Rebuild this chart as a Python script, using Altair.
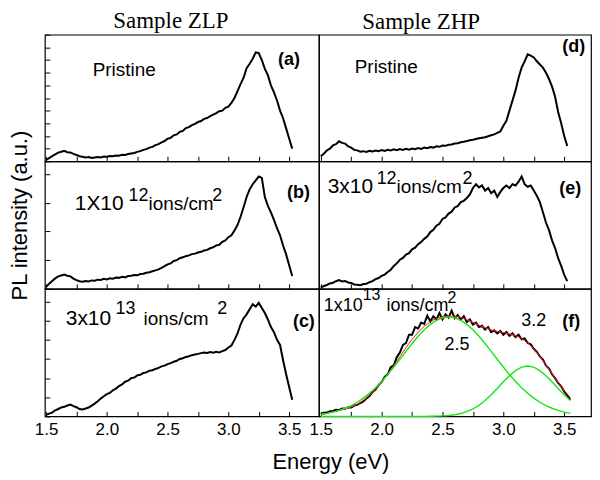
import altair as alt
import pandas as pd

# ---------------- data ----------------
ENERGY = [
    1.500, 1.525, 1.550, 1.575, 1.600, 1.625, 1.650, 1.675, 1.700, 1.725,
    1.750, 1.775, 1.800, 1.825, 1.850, 1.875, 1.900, 1.925, 1.950, 1.975,
    2.000, 2.025, 2.050, 2.075, 2.100, 2.125, 2.150, 2.175, 2.200, 2.225,
    2.250, 2.275, 2.300, 2.325, 2.350, 2.375, 2.400, 2.425, 2.450, 2.475,
    2.500, 2.525, 2.550, 2.575, 2.600, 2.625, 2.650, 2.675, 2.700, 2.725,
    2.750, 2.775, 2.800, 2.825, 2.850, 2.875, 2.900, 2.925, 2.950, 2.975,
    3.000, 3.025, 3.050, 3.075, 3.100, 3.125, 3.150, 3.175, 3.200, 3.225,
    3.250, 3.275, 3.300, 3.325, 3.350, 3.375, 3.400, 3.425, 3.450, 3.475,
    3.500, 3.525, 3.550,
]

ZLP_PRISTINE = [
    0.010, 0.025, 0.040, 0.055, 0.068, 0.075, 0.082, 0.072, 0.070, 0.058,
    0.050, 0.040, 0.036, 0.030, 0.033, 0.026, 0.030, 0.034, 0.030, 0.038,
    0.036, 0.042, 0.040, 0.046, 0.044, 0.052, 0.050, 0.058, 0.062, 0.066,
    0.074, 0.080, 0.090, 0.096, 0.108, 0.114, 0.128, 0.135, 0.150, 0.160,
    0.178, 0.185, 0.205, 0.212, 0.232, 0.240, 0.262, 0.270, 0.285, 0.296,
    0.310, 0.318, 0.335, 0.342, 0.356, 0.368, 0.380, 0.395, 0.400, 0.422,
    0.432, 0.462, 0.500, 0.555, 0.610, 0.660, 0.735, 0.770, 0.810, 0.860,
    0.855, 0.800, 0.730, 0.680, 0.600, 0.545, 0.480, 0.400, 0.340, 0.260,
    0.180, 0.100,
]

ZLP_1E12 = [
    0.015, 0.040, 0.062, 0.082, 0.098, 0.105, 0.112, 0.102, 0.098, 0.080,
    0.068, 0.060, 0.055, 0.062, 0.058, 0.066, 0.064, 0.072, 0.070, 0.078,
    0.074, 0.082, 0.080, 0.088, 0.086, 0.094, 0.090, 0.100, 0.102, 0.108,
    0.106, 0.116, 0.118, 0.126, 0.130, 0.138, 0.145, 0.152, 0.165, 0.178,
    0.192, 0.200, 0.218, 0.225, 0.240, 0.248, 0.256, 0.262, 0.272, 0.276,
    0.285, 0.290, 0.300, 0.305, 0.318, 0.326, 0.340, 0.345, 0.368, 0.380,
    0.405, 0.420, 0.458, 0.500, 0.565, 0.640, 0.720, 0.780, 0.820, 0.850,
    0.880, 0.870, 0.720, 0.650, 0.600, 0.540, 0.475, 0.420, 0.340, 0.270,
    0.185, 0.100,
]

ZLP_3E13 = [
    0.012, 0.022, 0.030, 0.048, 0.058, 0.070, 0.075, 0.085, 0.092, 0.080,
    0.072, 0.058, 0.055, 0.062, 0.070, 0.085, 0.100, 0.118, 0.140, 0.158,
    0.175, 0.185, 0.205, 0.218, 0.238, 0.250, 0.272, 0.280, 0.300, 0.305,
    0.322, 0.326, 0.340, 0.345, 0.358, 0.362, 0.372, 0.380, 0.392, 0.398,
    0.410, 0.418, 0.428, 0.436, 0.450, 0.456, 0.466, 0.472, 0.480, 0.486,
    0.490, 0.496, 0.500, 0.498, 0.505, 0.500, 0.506, 0.502, 0.512, 0.520,
    0.540, 0.556, 0.600, 0.650, 0.720, 0.770, 0.800, 0.840, 0.880, 0.860,
    0.890, 0.850, 0.810, 0.760, 0.700, 0.660, 0.600, 0.560, 0.440, 0.330,
    0.230, 0.130,
]

ZHP_PRISTINE = [
    0.040, 0.060, 0.085, 0.100, 0.125, 0.135, 0.158, 0.145, 0.140, 0.118,
    0.108, 0.090, 0.086, 0.076, 0.080, 0.074, 0.082, 0.078, 0.085, 0.080,
    0.088, 0.082, 0.090, 0.085, 0.094, 0.088, 0.096, 0.090, 0.098, 0.092,
    0.100, 0.096, 0.104, 0.098, 0.108, 0.104, 0.112, 0.108, 0.118, 0.114,
    0.124, 0.122, 0.130, 0.132, 0.140, 0.142, 0.150, 0.155, 0.160, 0.166,
    0.170, 0.176, 0.182, 0.186, 0.190, 0.198, 0.205, 0.212, 0.225, 0.235,
    0.280, 0.320, 0.400, 0.480, 0.560, 0.660, 0.740, 0.790, 0.845, 0.835,
    0.820, 0.790, 0.765, 0.740, 0.700, 0.650, 0.590, 0.510, 0.390, 0.300,
    0.200, 0.120,
]

ZHP_3E12 = [
    0.010, 0.022, 0.030, 0.042, 0.048, 0.060, 0.068, 0.058, 0.062, 0.050,
    0.046, 0.034, 0.032, 0.028, 0.038, 0.040, 0.052, 0.060, 0.076, 0.085,
    0.102, 0.112, 0.132, 0.150, 0.180, 0.200, 0.228, 0.242, 0.268, 0.280,
    0.310, 0.322, 0.350, 0.368, 0.392, 0.410, 0.445, 0.462, 0.495, 0.510,
    0.548, 0.560, 0.590, 0.605, 0.638, 0.648, 0.680, 0.690, 0.712, 0.740,
    0.790, 0.820, 0.795, 0.810, 0.770, 0.790, 0.750, 0.770, 0.720, 0.760,
    0.790, 0.810, 0.790, 0.820, 0.810, 0.840, 0.880, 0.820, 0.800, 0.810,
    0.770, 0.730, 0.680, 0.600, 0.520, 0.460, 0.380, 0.320, 0.240, 0.180,
    0.110, 0.060,
]

ZHP_1E13 = [
    0.020, 0.028, 0.030, 0.040, 0.042, 0.052, 0.050, 0.062, 0.060, 0.072,
    0.070, 0.085, 0.090, 0.105, 0.118, 0.140, 0.160, 0.190, 0.210, 0.245,
    0.270, 0.310, 0.330, 0.385, 0.400, 0.465, 0.500, 0.560, 0.575, 0.640,
    0.640, 0.700, 0.690, 0.735, 0.725, 0.790, 0.745, 0.785, 0.760, 0.810,
    0.760, 0.800, 0.775, 0.830, 0.770, 0.795, 0.760, 0.785, 0.740, 0.760,
    0.720, 0.735, 0.700, 0.710, 0.680, 0.700, 0.660, 0.675, 0.650, 0.670,
    0.640, 0.662, 0.632, 0.650, 0.622, 0.640, 0.605, 0.612, 0.575, 0.565,
    0.530, 0.505, 0.470, 0.445, 0.400, 0.375, 0.330, 0.300, 0.262, 0.235,
    0.195, 0.165, 0.130,
]

FIT_ENERGY = [
    1.50, 1.55, 1.60, 1.65, 1.70, 1.75, 1.80, 1.85, 1.90, 1.95,
    2.00, 2.05, 2.10, 2.15, 2.20, 2.25, 2.30, 2.35, 2.40, 2.45,
    2.50, 2.55, 2.60, 2.65, 2.70, 2.75, 2.80, 2.85, 2.90, 2.95,
    3.00, 3.05, 3.10, 3.15, 3.20, 3.25, 3.30, 3.35, 3.40, 3.45,
    3.50, 3.55,
]

FIT_PEAK_25 = [
    0.017, 0.024, 0.034, 0.047, 0.064, 0.085, 0.111, 0.143, 0.181, 0.224,
    0.274, 0.328, 0.387, 0.448, 0.510, 0.571, 0.628, 0.679, 0.721, 0.753,
    0.773, 0.780, 0.773, 0.753, 0.721, 0.679, 0.628, 0.571, 0.510, 0.448,
    0.387, 0.328, 0.274, 0.224, 0.181, 0.143, 0.111, 0.085, 0.064, 0.047,
    0.034, 0.024,
]

FIT_PEAK_32 = [
    0.000, 0.000, 0.000, 0.000, 0.000, 0.000, 0.000, 0.000, 0.000, 0.000,
    0.000, 0.000, 0.000, 0.000, 0.000, 0.000, 0.000, 0.000, 0.001, 0.002,
    0.004, 0.007, 0.013, 0.023, 0.037, 0.058, 0.087, 0.124, 0.169, 0.219,
    0.271, 0.319, 0.359, 0.386, 0.395, 0.386, 0.359, 0.319, 0.271, 0.219,
    0.169, 0.124,
]

FIT_SUM = [
    0.015, 0.022, 0.035, 0.045, 0.058, 0.074, 0.095, 0.125, 0.165, 0.212,
    0.268, 0.330, 0.398, 0.468, 0.538, 0.604, 0.660, 0.706, 0.742, 0.768,
    0.782, 0.788, 0.786, 0.776, 0.758, 0.737, 0.715, 0.695, 0.679, 0.667,
    0.658, 0.647, 0.633, 0.610, 0.576, 0.529, 0.470, 0.404, 0.335, 0.266,
    0.203, 0.148,
]

X_TICKS = [1.5, 1.75, 2.0, 2.25, 2.5, 2.75, 3.0, 3.25, 3.5]
Y_TICKS_A = [0.0, 0.1, 0.2, 0.3, 0.4, 0.5, 0.6, 0.7, 0.8, 0.9, 1.0]
Y_TICKS_B = [0.0, 0.225, 0.45, 0.675, 0.9]
Y_TICKS_C = [0.0, 0.15, 0.3, 0.45, 0.6, 0.75, 0.9]

# ---------------- styling ----------------
SANS = "Liberation Sans"
SERIF = "Liberation Serif"
LEFT_DOMAIN = [1.49, 3.745]
RIGHT_DOMAIN = [1.485, 3.72]
GREEN = "#19e619"
RED = "#ff2020"


def series(energy, values):
    return pd.DataFrame({"E": energy[:len(values)], "I": values})


def make_panel(lines, texts, xdom, width, height, x_labels, yticks,
               ytitle=None, title=None, title_dx=0):
    xaxis = alt.Axis(
        values=X_TICKS, labels=x_labels, ticks=True, tickSize=5, tickWidth=1,
        tickColor="black", offset=-5, domain=False, grid=False, title=None,
        labelExpr="datum.value % 0.5 == 0 ? format(datum.value, '.1f') : ''",
        labelFont=SANS, labelFontSize=17, labelColor="black", labelPadding=5,
    )
    if yticks is None:
        yaxis = None
    else:
        ykw = dict(values=yticks, labels=False, ticks=True, tickSize=5,
                   tickWidth=1, tickColor="black", offset=-5, domain=False,
                   grid=False)
        if ytitle:
            ykw.update(title=ytitle, titleFont=SANS, titleFontSize=22,
                       titleFontWeight="normal", titleColor="black",
                       titleAngle=270, titleAlign="center",
                       titleBaseline="middle", titleX=-30, titleY=54)
        else:
            ykw.update(title=None)
        yaxis = alt.Axis(**ykw)
    X = alt.X("E:Q", scale=alt.Scale(domain=xdom, nice=False, zero=False),
              axis=xaxis)
    Y = alt.Y("I:Q", scale=alt.Scale(domain=[0, 1], nice=False, zero=False),
              axis=yaxis)
    layers = []
    for df, color, sw in lines:
        layers.append(alt.Chart(df).mark_line(color=color, strokeWidth=sw)
                      .encode(x=X, y=Y))
    for txt, e, v, size, weight, base in texts:
        layers.append(
            alt.Chart(pd.DataFrame({"E": [e], "I": [v]}))
            .mark_text(text=txt, align="left", baseline=base, font=SANS,
                       fontSize=size, fontWeight=weight, color="black")
            .encode(x=X, y=Y)
        )
    ch = alt.layer(*layers).properties(width=width, height=height)
    if title:
        ch = ch.properties(title=alt.TitleParams(
            text=title, font=SERIF, fontSize=23, fontWeight="normal",
            color="black", anchor="middle", dx=title_dx, offset=1))
    return ch


BLACK_W = 2.0

p_a = make_panel(
    [(series(ENERGY, ZLP_PRISTINE), "black", BLACK_W)],
    [("Pristine", 1.883, 0.675, 19, "normal", "alphabetic"),
     ("(a)", 3.408, 0.80, 18, "bold", "middle")],
    LEFT_DOMAIN, 275, 127, False, Y_TICKS_A, title="Sample ZLP", title_dx=-11)

p_b = make_panel(
    [(series(ENERGY, ZLP_1E12), "black", BLACK_W)],
    [("1X10", 1.736, 0.62, 21, "normal", "alphabetic"),
     ("12", 2.179, 0.685, 18, "normal", "alphabetic"),
     ("ions/cm", 2.342, 0.62, 19, "normal", "alphabetic"),
     ("2", 2.867, 0.685, 18, "normal", "alphabetic"),
     ("(b)", 3.482, 0.75, 18, "bold", "middle")],
    LEFT_DOMAIN, 275, 128, False, Y_TICKS_B, ytitle="PL intensity (a.u.)")

p_c = make_panel(
    [(series(ENERGY, ZLP_3E13), "black", BLACK_W)],
    [("3x10", 1.662, 0.717, 21, "normal", "alphabetic"),
     ("13", 2.072, 0.80, 18, "normal", "alphabetic"),
     ("ions/cm", 2.301, 0.717, 19, "normal", "alphabetic"),
     ("2", 2.908, 0.80, 18, "normal", "alphabetic"),
     ("(c)", 3.531, 0.74, 18, "bold", "middle")],
    LEFT_DOMAIN, 275, 128, True, Y_TICKS_C)

p_d = make_panel(
    [(series(ENERGY, ZHP_PRISTINE), "black", BLACK_W)],
    [("Pristine", 1.779, 0.695, 19, "normal", "alphabetic"),
     ("(d)", 3.484, 0.90, 18, "bold", "middle")],
    RIGHT_DOMAIN, 273, 127, False, None, title="Sample ZHP", title_dx=-34)

p_e = make_panel(
    [(series(ENERGY, ZHP_3E12), "black", BLACK_W)],
    [("3x10", 1.557, 0.754, 21, "normal", "alphabetic"),
     ("12", 1.959, 0.825, 18, "normal", "alphabetic"),
     ("ions/cm", 2.123, 0.754, 19, "normal", "alphabetic"),
     ("2", 2.664, 0.825, 18, "normal", "alphabetic"),
     ("(e)", 3.459, 0.78, 18, "bold", "middle")],
    RIGHT_DOMAIN, 273, 128, False, None)

p_f = make_panel(
    [(series(ENERGY, ZHP_1E13), "black", BLACK_W),
     (series(FIT_ENERGY, FIT_SUM), RED, 1.0),
     (series(FIT_ENERGY, FIT_PEAK_25), GREEN, 1.4),
     (series(FIT_ENERGY, FIT_PEAK_32), GREEN, 1.4)],
    [("1x10", 1.525, 0.83, 18, "normal", "alphabetic"),
     ("13", 1.844, 0.91, 16, "normal", "alphabetic"),
     ("ions/cm", 2.041, 0.83, 18, "normal", "alphabetic"),
     ("2", 2.541, 0.89, 16, "normal", "alphabetic"),
     ("2.5", 2.516, 0.52, 18, "normal", "alphabetic"),
     ("3.2", 3.148, 0.71, 18, "normal", "alphabetic"),
     ("(f)", 3.484, 0.74, 18, "bold", "middle")],
    RIGHT_DOMAIN, 273, 128, True, None)

chart = (
    alt.concat(p_a, p_d, p_b, p_e, p_c, p_f, columns=2, spacing=0,
               bounds="flush", align="each")
    .properties(
        title=alt.TitleParams(
            text="Energy (eV)", orient="bottom", anchor="middle", font=SANS,
            fontSize=22, fontWeight="normal", color="black", dx=31, offset=14),
        padding={"left": 0, "top": 0, "right": 0, "bottom": 0},
        background="white",
    )
    .configure_view(stroke="black", strokeWidth=1.2)
)

chart.save("out.html", embed_options={"renderer": "svg", "actions": False})
